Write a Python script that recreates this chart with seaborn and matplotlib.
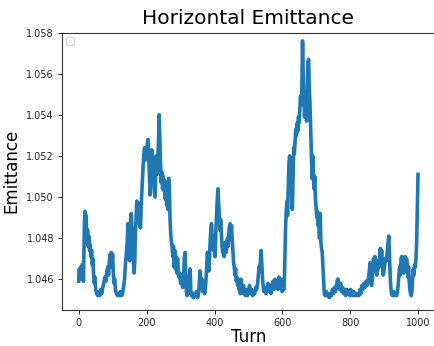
import matplotlib
matplotlib.use("Agg")
import matplotlib.pyplot as plt
import seaborn as sns
import pandas as pd

# ---- data (turn, emittance) ----
turns = [
    0, 2, 4, 6, 8, 10, 12, 14, 15, 17, 19, 21, 22, 24, 26, 28, 30, 32, 34, 36, 38, 40, 42, 44, 46, 48,
    50, 53, 56, 59, 62, 65, 68, 71, 74, 77, 80, 83, 86, 88, 90, 92, 94, 96, 98, 100, 102, 104, 106, 108,
    111, 114, 117, 120, 123, 126, 129, 132, 135, 137, 139, 141, 143,
    145, 148, 150, 153, 155, 157, 159, 161, 163, 165, 167, 169, 171, 173, 175, 177, 180, 182, 184, 186,
    188, 190, 192, 194, 196, 198, 200, 202, 204, 206, 208, 210, 211, 213, 215, 217, 219, 221, 223, 225,
    227, 229, 231, 233, 235, 237, 239, 241, 243, 245, 247, 249, 251, 253, 255, 257, 259, 261, 263, 265,
    267, 269, 271, 273, 275, 277, 279, 281, 283, 285, 287, 289, 291, 293,
    295, 298, 300, 303, 306, 309, 311, 313, 315, 317, 319, 321, 323, 325, 327, 328, 330, 332, 335, 338,
    341, 344, 347, 350, 353, 355, 357, 359, 361, 363, 365, 368, 371, 374, 377, 379, 381, 383, 385, 387,
    389, 391, 393, 395, 397, 399, 402, 404, 406, 408, 410, 412, 414, 416, 418, 420, 422, 424, 426, 428,
    430, 432, 434, 436, 438, 440, 442, 444, 446, 448, 450, 452, 454, 456, 458, 460, 462, 464, 466, 468,
    470, 472, 474, 476,
    478, 480, 482, 485, 488, 491, 494, 497, 500, 503, 506, 509, 512, 515, 518, 521, 524, 527, 529, 531,
    533, 535, 537, 539, 541, 543, 545, 548, 551, 554, 557, 560, 563, 566, 569, 572, 575, 578, 581, 584,
    587, 590, 593, 596, 599, 602,
    604, 606, 607, 609, 611, 613, 615, 617, 619, 621, 623, 625, 627, 629, 631, 633, 635, 637, 639, 641,
    643, 645, 647, 649, 651, 653, 655, 657, 659, 661, 663, 665, 667, 669, 671, 673, 675, 677, 679, 681,
    683, 685, 687, 689, 691, 693, 695, 697, 699, 701, 703, 705, 707, 709, 711, 713,
    715, 717, 719, 721, 723, 726, 729, 732, 735, 738, 741, 744, 747, 750, 753, 756, 759, 762, 764, 766,
    768, 771, 774, 777, 780, 783, 786, 789, 792, 795, 798, 801, 804, 807, 810, 813, 816, 819, 822, 825,
    828, 831, 834, 837, 840, 843, 846, 849, 852, 855, 858, 860, 862, 864, 866, 868, 870, 872, 874, 876,
    878, 880, 882, 884, 886, 888, 890, 892, 894, 896, 898, 900, 903, 906, 909, 911, 913, 915, 917, 919,
    921, 924, 927, 930, 933, 936, 939, 941, 943, 945, 947, 949, 951, 953, 955, 957, 959, 961, 963, 965,
    967, 969, 971, 973, 975, 977, 979, 981, 983, 985, 987, 989, 991, 993, 995, 997, 999,
]

emittance = [
    1.0459, 1.0465, 1.0460, 1.0466, 1.0462, 1.0467, 1.0466, 1.0459, 1.0468, 1.0488, 1.0493, 1.0486, 1.0491,
    1.0478, 1.0484, 1.0476, 1.0481, 1.0474, 1.0477, 1.0471, 1.0474, 1.0467, 1.0470, 1.0462, 1.0458, 1.0461,
    1.0455, 1.0453, 1.0452, 1.0454, 1.0452, 1.0455, 1.0453, 1.0456, 1.0458, 1.0461, 1.0459, 1.0464, 1.0466,
    1.0462, 1.0468, 1.0472, 1.0466, 1.0473, 1.0469, 1.0472, 1.0463, 1.0458, 1.0460, 1.0455,
    1.0453, 1.0452, 1.0453, 1.0452, 1.0454, 1.0452, 1.0453, 1.0456, 1.0460, 1.0466, 1.0470, 1.0474, 1.0478,
    1.0487, 1.0471, 1.0469, 1.0488, 1.0492, 1.0485, 1.0478, 1.0470, 1.0463, 1.0468, 1.0482, 1.0490, 1.0498,
    1.0493, 1.0497, 1.0489, 1.0486, 1.0485, 1.0496, 1.0503,
    1.0511, 1.0516, 1.0521, 1.0524, 1.0518, 1.0523, 1.0520, 1.0526, 1.0528, 1.0521, 1.0512, 1.0501, 1.0505,
    1.0518, 1.0523, 1.0510, 1.0520, 1.0508, 1.0502, 1.0500,
    1.0514, 1.0520, 1.0511, 1.0519, 1.0527, 1.0540, 1.0528, 1.0516, 1.0507, 1.0512, 1.0504, 1.0510, 1.0503,
    1.0508, 1.0499, 1.0506, 1.0496, 1.0502, 1.0494, 1.0509,
    1.0505, 1.0489, 1.0482, 1.0478, 1.0476, 1.0471, 1.0476, 1.0466, 1.0474, 1.0465, 1.0471, 1.0463, 1.0470,
    1.0464,
    1.0461, 1.0463, 1.0458, 1.0460, 1.0456, 1.0462, 1.0470, 1.0473, 1.0462, 1.0454, 1.0452, 1.0456, 1.0453,
    1.0459, 1.0464, 1.0465, 1.0455, 1.0452, 1.0453, 1.0451,
    1.0453, 1.0452, 1.0454, 1.0451, 1.0453, 1.0458, 1.0464, 1.0461, 1.0457, 1.0460, 1.0454, 1.0456, 1.0453,
    1.0458, 1.0466, 1.0473, 1.0468, 1.0464, 1.0470, 1.0478,
    1.0484, 1.0487, 1.0481, 1.0478, 1.0474, 1.0477, 1.0471, 1.0484, 1.0492, 1.0499, 1.0504, 1.0497, 1.0490,
    1.0484, 1.0489, 1.0482, 1.0476, 1.0473, 1.0477, 1.0471,
    1.0474, 1.0478, 1.0473, 1.0476, 1.0480, 1.0476, 1.0482, 1.0486, 1.0487, 1.0483, 1.0486, 1.0479, 1.0474,
    1.0468, 1.0466, 1.0462, 1.0465, 1.0459, 1.0461, 1.0457,
    1.0460, 1.0455, 1.0457, 1.0453,
    1.0460, 1.0456, 1.0453, 1.0457, 1.0454, 1.0452, 1.0455, 1.0452, 1.0454, 1.0457, 1.0453, 1.0455, 1.0452,
    1.0454, 1.0453, 1.0456, 1.0455, 1.0458, 1.0462, 1.0466,
    1.0464, 1.0469, 1.0474, 1.0468, 1.0461, 1.0457, 1.0454, 1.0456, 1.0453, 1.0455, 1.0458, 1.0454, 1.0457,
    1.0453, 1.0456, 1.0459, 1.0455, 1.0460, 1.0456, 1.0459,
    1.0455, 1.0461, 1.0456, 1.0460, 1.0454, 1.0458,
    1.0455, 1.0462, 1.0470, 1.0485, 1.0493, 1.0498, 1.0491, 1.0505, 1.0516, 1.0520, 1.0514, 1.0518, 1.0507,
    1.0494, 1.0510, 1.0524, 1.0521, 1.0527, 1.0533, 1.0530,
    1.0536, 1.0532, 1.0539, 1.0536, 1.0543, 1.0549, 1.0545, 1.0552, 1.0576, 1.0560, 1.0548, 1.0539, 1.0546,
    1.0543, 1.0537, 1.0552, 1.0566, 1.0567, 1.0553, 1.0545,
    1.0533, 1.0522, 1.0509, 1.0520, 1.0512, 1.0504, 1.0510, 1.0499, 1.0495, 1.0490, 1.0493, 1.0486, 1.0488,
    1.0480, 1.0492, 1.0478,
    1.0475, 1.0473, 1.0466, 1.0458, 1.0453, 1.0452, 1.0454, 1.0452, 1.0453, 1.0451, 1.0453, 1.0452, 1.0455,
    1.0453, 1.0456, 1.0454, 1.0457, 1.0460, 1.0460, 1.0457,
    1.0455, 1.0458, 1.0454, 1.0456, 1.0453, 1.0455, 1.0452, 1.0455, 1.0453, 1.0454, 1.0452, 1.0455, 1.0453,
    1.0452, 1.0454, 1.0452, 1.0453, 1.0452, 1.0453, 1.0452,
    1.0455, 1.0453, 1.0457, 1.0455, 1.0458, 1.0456, 1.0459, 1.0457, 1.0459, 1.0463, 1.0468, 1.0461, 1.0457,
    1.0459, 1.0464, 1.0470, 1.0466, 1.0471, 1.0464, 1.0467,
    1.0462, 1.0465, 1.0469, 1.0466, 1.0472, 1.0475, 1.0470, 1.0474, 1.0467, 1.0462, 1.0463, 1.0466, 1.0470,
    1.0469, 1.0474, 1.0478, 1.0481, 1.0472, 1.0462, 1.0456,
    1.0453, 1.0452, 1.0454, 1.0452, 1.0453, 1.0452, 1.0455, 1.0458, 1.0463, 1.0466, 1.0462, 1.0470, 1.0471,
    1.0465, 1.0469, 1.0463, 1.0468, 1.0471, 1.0466, 1.0470,
    1.0468, 1.0461, 1.0466, 1.0459, 1.0455, 1.0453, 1.0452, 1.0454, 1.0460, 1.0465, 1.0462, 1.0467, 1.0466,
    1.0470, 1.0478, 1.0495, 1.0511,
]

title = "Horizontal Emittance"
xlabel = "Turn"
ylabel = "Emittance"
xticks = [0, 200, 400, 600, 800, 1000]
yticks = [1.046, 1.048, 1.050, 1.052, 1.054, 1.056, 1.058]

df = pd.DataFrame({"Turn": turns, "Emittance": emittance})

DPI = 100
fig = plt.figure(figsize=(434 / DPI, 346 / DPI), dpi=DPI)
ax = fig.add_axes([61.7 / 434, (346 - 310) / 346, (435 - 61.7) / 434, (310 - 32.7) / 346])

sns.lineplot(data=df, x="Turn", y="Emittance", ax=ax, color="#1f77b4",
             linewidth=2.6, estimator=None, sort=False)

ax.set_xlim(-50, 1049)
ax.set_ylim(1.0445, 1.0580)
ax.set_xticks(xticks)
ax.set_yticks(yticks)
ax.set_yticklabels([f"{v:.3f}" for v in yticks])
ax.tick_params(labelsize=7, length=3, width=0.7, pad=2.5, colors="#222222", labelcolor="#222222")
for s in ax.spines.values():
    s.set_linewidth(0.8)
    s.set_color("#333333")

ax.set_title(title, fontsize=14.5, pad=6)
ax.set_xlabel(xlabel, fontsize=12, labelpad=0)
ax.set_ylabel(ylabel, fontsize=12, labelpad=4)
ax.legend(handles=[], loc="upper left", fontsize=6.6)

fig.savefig("out.png", dpi=DPI)
